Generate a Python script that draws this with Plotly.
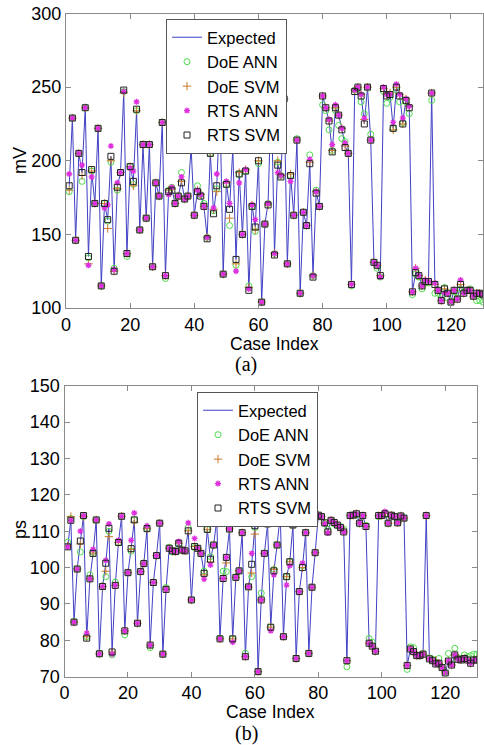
import plotly.graph_objects as go

case_index = list(range(1, 131))
x_ticks = [0, 20, 40, 60, 80, 100, 120]
y_ticks_a = [100, 150, 200, 250, 300]
y_ticks_b = [70, 80, 90, 100, 110, 120, 130, 140, 150]

# ---- (a) mV ----
a_expected = [183, 229, 146, 205, 192, 236, 135, 193, 171, 222,
              115, 171, 160, 203, 125, 182, 192, 247, 137, 196,
              186, 234, 153, 211, 161, 211, 128, 185, 176, 226,
              122, 180, 181, 171, 176, 186, 174, 176, 209, 163,
              180, 177, 169, 148, 205, 164, 183, 238, 123, 185,
              168, 208, 133, 192, 150, 194, 112, 170, 155, 200,
              104, 157, 171, 245, 137, 198, 190, 242, 130, 191,
              163, 214, 110, 165, 156, 199, 122, 179, 169, 244,
              236, 227, 206, 236, 231, 222, 210, 205, 116, 248,
              250, 245, 225, 250, 214, 131, 129, 122, 249, 245,
              246, 222, 250, 245, 226, 242, 237, 111, 124, 122,
              115, 119, 118, 246, 116, 112, 105, 113, 110, 104,
              112, 106, 116, 110, 112, 112, 108, 110, 110, 109]
a_doe_ann = [179, 229, 146, 205, 186, 236, 134, 193, 171, 222,
             115, 171, 159, 199, 127, 180, 192, 247, 135, 196,
             184, 234, 153, 211, 161, 211, 128, 185, 176, 226,
             120, 180, 182, 171, 176, 192, 174, 176, 210, 163,
             183, 177, 171, 148, 205, 166, 181, 238, 123, 184,
             156, 208, 129, 191, 150, 193, 115, 169, 152, 198,
             104, 157, 171, 245, 137, 199, 190, 242, 130, 190,
             163, 215, 110, 165, 156, 204, 122, 180, 169, 238,
             234, 221, 207, 234, 224, 215, 213, 205, 115, 248,
             249, 240, 232, 250, 218, 131, 127, 121, 247, 239,
             243, 222, 248, 240, 226, 240, 232, 109, 123, 121,
             113, 117, 117, 241, 110, 110, 107, 114, 107, 104,
             111, 107, 113, 111, 112, 113, 108, 105, 105, 104]
a_doe_svm = [180, 229, 146, 205, 190, 236, 130, 193, 171, 222,
             115, 171, 154, 200, 125, 181, 192, 246, 137, 196,
             183, 234, 153, 211, 161, 211, 128, 185, 176, 226,
             122, 180, 181, 171, 176, 186, 174, 176, 209, 163,
             180, 177, 169, 148, 205, 167, 179, 238, 123, 185,
             161, 208, 130, 192, 150, 194, 114, 170, 153, 200,
             104, 157, 170, 245, 137, 200, 190, 242, 130, 191,
             163, 214, 110, 165, 156, 199, 122, 179, 169, 244,
             236, 227, 207, 236, 231, 222, 210, 205, 116, 248,
             250, 245, 228, 250, 214, 131, 129, 122, 249, 245,
             246, 221, 250, 245, 225, 242, 237, 111, 127, 122,
             115, 119, 118, 246, 116, 112, 105, 113, 110, 104,
             112, 106, 116, 110, 112, 112, 108, 110, 110, 109]
a_rts_ann = [191, 229, 146, 205, 197, 236, 129, 189, 171, 222,
             115, 168, 170, 210, 126, 185, 192, 247, 137, 195,
             193, 240, 153, 211, 161, 211, 128, 185, 176, 226,
             122, 177, 182, 171, 176, 189, 174, 176, 216, 163,
             180, 177, 169, 148, 207, 168, 191, 238, 123, 186,
             171, 208, 125, 185, 150, 194, 113, 170, 160, 207,
             104, 157, 171, 245, 137, 192, 190, 242, 130, 186,
             163, 214, 110, 165, 156, 201, 122, 179, 169, 244,
             236, 228, 211, 238, 231, 222, 212, 205, 116, 248,
             250, 245, 229, 250, 214, 131, 129, 121, 250, 245,
             245, 226, 252, 245, 229, 242, 237, 111, 127, 122,
             115, 119, 118, 246, 117, 112, 105, 110, 110, 104,
             112, 106, 119, 110, 112, 112, 108, 110, 110, 109]
a_rts_svm = [183, 229, 146, 205, 192, 236, 135, 194, 171, 222,
             115, 171, 160, 203, 125, 182, 192, 248, 137, 196,
             186, 235, 153, 211, 161, 211, 128, 185, 176, 226,
             122, 179, 180, 171, 176, 185, 174, 176, 209, 163,
             179, 176, 169, 147, 205, 164, 183, 238, 123, 184,
             167, 208, 133, 191, 150, 193, 112, 169, 155, 200,
             104, 157, 170, 245, 136, 197, 189, 242, 130, 190,
             163, 214, 110, 165, 156, 198, 121, 178, 169, 244,
             236, 227, 206, 236, 231, 221, 209, 205, 116, 247,
             250, 244, 225, 250, 214, 131, 129, 122, 249, 244,
             245, 222, 250, 244, 225, 241, 236, 111, 124, 122,
             115, 118, 118, 246, 116, 112, 105, 113, 110, 104,
             112, 106, 116, 110, 112, 112, 108, 110, 110, 109]

# ---- (b) ps ----
b_expected = [105.7, 113.0, 85.0, 99.6, 107.1, 114.3, 80.6, 96.9, 103.9, 113.1,
              76.3, 94.8, 101.2, 110.8, 76.8, 95.1, 106.9, 114.1, 82.6, 98.6,
              105.2, 113.1, 84.7, 98.9, 101.1, 110.7, 78.7, 95.9, 103.3, 112.2,
              76.2, 94.0, 105.3, 104.6, 104.4, 106.7, 104.8, 104.6, 110.1, 91.1,
              105.8, 105.3, 103.9, 98.4, 110.5, 102.3, 106.2, 113.2, 80.4, 97.0,
              102.8, 110.6, 80.4, 97.3, 99.1, 109.6, 75.5, 94.7, 100.9, 111.5,
              71.4, 91.1, 103.9, 112.0, 83.6, 99.1, 106.2, 114.5, 81.0, 97.5,
              101.6, 111.7, 75.0, 93.4, 100.0, 109.6, 76.4, 94.6, 104.1, 114.4,
              114.0, 112.3, 109.8, 113.0, 112.4, 111.7, 111.0, 109.8, 74.4, 114.3,
              114.4, 114.8, 112.2, 114.3, 111.3, 79.2, 78.4, 77.0, 114.3, 114.3,
              114.8, 112.2, 114.4, 114.0, 112.3, 114.2, 113.6, 73.1, 77.6, 76.9,
              75.8, 75.8, 76.2, 114.3, 74.9, 74.4, 73.5, 73.7, 72.5, 71.0,
              74.3, 73.2, 76.0, 74.8, 74.6, 75.0, 74.6, 73.7, 74.6, 74.6]
b_doe_ann = [107.0, 113.5, 85.2, 99.6, 104.3, 114.0, 81.0, 98.0, 104.2, 113.0,
             76.3, 95.0, 97.5, 110.0, 76.0, 96.0, 106.9, 114.1, 81.5, 98.6,
             104.5, 113.1, 84.7, 98.9, 101.3, 110.7, 78.0, 95.9, 103.3, 112.2,
             76.2, 94.5, 105.6, 104.3, 104.4, 106.4, 104.8, 104.6, 111.0, 91.1,
             105.5, 105.3, 103.9, 99.0, 110.5, 103.0, 106.2, 113.2, 80.6, 99.0,
             98.9, 110.6, 80.4, 97.3, 99.1, 109.6, 76.5, 94.7, 97.5, 111.0,
             71.4, 93.0, 103.9, 112.3, 83.6, 99.5, 106.2, 114.5, 81.0, 97.5,
             101.6, 111.7, 75.0, 93.4, 100.5, 109.6, 76.4, 94.6, 104.1, 114.2,
             114.0, 112.0, 110.5, 113.0, 112.0, 111.5, 111.3, 110.6, 72.7, 114.3,
             114.4, 114.5, 112.0, 114.3, 111.6, 80.5, 79.5, 77.0, 114.0, 114.3,
             114.5, 112.2, 114.4, 114.0, 112.3, 114.2, 113.6, 72.0, 78.2, 78.0,
             76.0, 75.8, 76.4, 114.3, 75.2, 74.8, 74.0, 75.0, 72.5, 71.0,
             76.4, 73.5, 77.8, 75.2, 74.8, 76.0, 75.5, 75.8, 76.2, 76.2]
b_doe_svm = [106.0, 114.0, 85.0, 99.6, 106.5, 114.0, 81.0, 96.9, 104.0, 113.1,
             76.3, 94.8, 99.0, 108.5, 76.8, 95.1, 106.9, 114.1, 82.6, 98.6,
             105.0, 112.5, 84.7, 98.9, 101.1, 110.7, 78.7, 95.9, 103.3, 112.2,
             76.2, 94.0, 105.3, 104.6, 104.4, 106.7, 104.8, 104.6, 110.1, 91.1,
             105.8, 105.3, 103.9, 98.0, 110.5, 101.5, 106.2, 113.2, 80.4, 97.0,
             101.3, 110.6, 80.4, 97.3, 99.1, 109.6, 75.5, 94.7, 98.5, 109.2,
             71.4, 91.1, 103.9, 112.0, 83.6, 99.5, 106.2, 114.5, 81.0, 97.5,
             101.6, 111.7, 75.0, 93.4, 100.0, 109.6, 76.4, 94.6, 104.1, 114.4,
             114.0, 112.3, 109.8, 113.0, 112.4, 111.7, 111.0, 109.8, 74.4, 114.3,
             114.4, 114.8, 112.2, 114.3, 111.3, 79.2, 78.4, 77.0, 114.3, 114.3,
             114.8, 112.2, 114.4, 114.0, 112.3, 114.2, 113.6, 73.1, 77.6, 76.9,
             75.8, 75.8, 76.2, 114.3, 74.9, 74.4, 74.5, 73.7, 72.5, 71.0,
             74.3, 73.2, 76.0, 74.8, 74.6, 75.0, 74.6, 73.7, 74.6, 74.6]
b_rts_ann = [105.7, 113.0, 85.0, 99.6, 110.0, 114.3, 82.0, 96.9, 105.0, 113.1,
             76.3, 94.8, 102.0, 112.0, 76.2, 95.1, 107.5, 114.1, 82.6, 98.6,
             107.5, 115.0, 84.7, 98.9, 101.1, 111.5, 78.7, 95.9, 103.3, 112.2,
             76.2, 94.0, 105.3, 104.6, 104.4, 107.2, 104.8, 104.6, 112.3, 91.1,
             108.0, 105.3, 103.9, 96.8, 112.2, 100.7, 106.2, 113.2, 80.4, 97.0,
             102.8, 110.6, 79.5, 97.3, 99.1, 109.6, 75.5, 94.7, 103.9, 113.0,
             71.4, 91.1, 103.9, 112.0, 82.6, 98.0, 106.2, 114.5, 81.0, 95.2,
             100.5, 111.7, 75.0, 93.4, 101.2, 109.6, 76.4, 94.6, 104.1, 114.4,
             114.0, 112.0, 109.5, 113.0, 112.4, 111.7, 111.0, 109.8, 74.4, 114.3,
             114.4, 114.8, 112.2, 114.3, 111.3, 79.2, 78.4, 77.0, 114.3, 114.3,
             115.4, 112.2, 114.4, 114.0, 112.3, 114.2, 113.6, 73.1, 77.6, 76.9,
             75.8, 75.8, 76.2, 114.3, 74.9, 74.4, 73.5, 73.7, 72.5, 71.0,
             74.3, 73.2, 76.0, 74.8, 74.6, 75.0, 74.6, 73.7, 74.6, 74.6]
b_rts_svm = [105.7, 113.0, 85.0, 99.6, 107.3, 114.3, 80.6, 96.9, 103.9, 113.1,
             76.3, 94.8, 101.2, 110.8, 76.8, 95.1, 106.9, 114.1, 82.6, 98.6,
             105.2, 113.1, 84.7, 98.9, 101.1, 110.7, 78.7, 95.9, 103.3, 112.2,
             76.2, 94.0, 105.3, 104.6, 104.4, 106.7, 104.8, 104.6, 110.1, 91.1,
             105.8, 105.3, 103.9, 98.4, 110.5, 102.3, 106.2, 113.2, 80.4, 97.0,
             102.8, 110.6, 80.4, 97.3, 99.1, 109.6, 75.5, 94.7, 100.9, 111.5,
             71.4, 91.1, 103.9, 112.0, 83.6, 99.1, 106.2, 114.5, 81.0, 97.5,
             101.6, 111.7, 75.0, 93.4, 100.0, 109.6, 76.4, 94.6, 104.1, 114.4,
             114.0, 112.3, 109.8, 113.0, 112.4, 111.7, 111.0, 109.8, 74.4, 114.3,
             114.4, 114.8, 112.2, 114.3, 111.3, 79.2, 78.4, 77.0, 114.3, 114.3,
             114.8, 112.2, 114.4, 114.0, 112.3, 114.2, 113.6, 73.1, 77.6, 76.9,
             75.8, 75.8, 76.2, 114.3, 74.9, 74.4, 73.5, 73.7, 72.5, 71.0,
             74.3, 73.2, 76.0, 74.8, 74.6, 75.0, 74.6, 73.7, 74.6, 74.6]

FONT = "Liberation Sans, Arial, Helvetica, sans-serif"
SERIF = "Liberation Serif, Times New Roman, serif"
LINE_C = "#4040c4"
GREEN = "#4ddc4d"
ORANGE = "#c87a2a"
MAGENTA = "#dd2fdd"
BLACK = "#222222"

styles = [
    ("DoE ANN", dict(symbol="circle-open", size=6, color=GREEN, line=dict(width=1, color=GREEN))),
    ("DoE SVM", dict(symbol="cross-thin-open", size=6, color=ORANGE, line=dict(width=1, color=ORANGE))),
    ("RTS ANN", dict(symbol="asterisk-open", size=5, color=MAGENTA, line=dict(width=1.3, color=MAGENTA))),
    ("RTS SVM", dict(symbol="square-open", size=6, color=BLACK, line=dict(width=1, color=BLACK))),
]

fig = go.Figure()

def add_panel(exp, models, xa, ya, legend):
    fig.add_trace(go.Scatter(x=case_index, y=exp, mode="lines", name="Expected",
                             line=dict(color=LINE_C, width=1), xaxis=xa, yaxis=ya, legend=legend))
    for (name, mk), vals in zip(styles, models):
        fig.add_trace(go.Scatter(x=case_index, y=vals, mode="markers", name=name,
                                 marker=mk, xaxis=xa, yaxis=ya, legend=legend))

add_panel(a_expected, [a_doe_ann, a_doe_svm, a_rts_ann, a_rts_svm], "x", "y", "legend")
add_panel(b_expected, [b_doe_ann, b_doe_svm, b_rts_ann, b_rts_svm], "x2", "y2", "legend2")

W, H = 484, 745
axis_common = dict(showline=True, linecolor="#8a8a8a", linewidth=1, mirror="ticks",
                   ticks="inside", ticklen=5, tickcolor="#8a8a8a", showgrid=False,
                   zeroline=False, automargin=False,
                   tickfont=dict(family=FONT, size=18, color="black"))

legend_common = dict(xanchor="left", yanchor="top", bgcolor="white",
                     bordercolor="#555555", borderwidth=1,
                     font=dict(family=FONT, size=16.5, color="black"),
                     tracegroupgap=0, itemwidth=30)

fig.update_layout(
    width=W, height=H, margin=dict(l=0, r=0, t=0, b=0, autoexpand=False),
    paper_bgcolor="white", plot_bgcolor="white",
    xaxis=dict(domain=[66 / W, 483 / W], anchor="y", range=[0, 130], tickvals=x_ticks, **axis_common),
    yaxis=dict(domain=[1 - 308 / H, 1 - 13.5 / H], anchor="x", range=[100, 300], tickvals=y_ticks_a, **axis_common),
    xaxis2=dict(domain=[64.5 / W, 477 / W], anchor="y2", range=[0, 130], tickvals=x_ticks, **axis_common),
    yaxis2=dict(domain=[1 - 676.7 / H, 1 - 385.7 / H], anchor="x2", range=[70, 150], tickvals=y_ticks_b, **axis_common),
    legend=dict(x=166 / W, y=1 - 19 / H, **legend_common),
    legend2=dict(x=197 / W, y=1 - 392 / H, **legend_common),
    showlegend=True,
)

ann = [
    dict(text="mV", x=20 / W, y=1 - 161 / H, textangle=-90, font=dict(family=FONT, size=18)),
    dict(text="Case Index", x=274 / W, y=1 - 344 / H, font=dict(family=FONT, size=17.5)),
    dict(text="(a)", x=246 / W, y=1 - 364 / H, font=dict(family=SERIF, size=20)),
    dict(text="ps", x=20 / W, y=1 - 530 / H, textangle=-90, font=dict(family=FONT, size=18)),
    dict(text="Case Index", x=270 / W, y=1 - 712 / H, font=dict(family=FONT, size=17.5)),
    dict(text="(b)", x=246 / W, y=1 - 733 / H, font=dict(family=SERIF, size=20)),
]
for a in ann:
    a.update(xref="paper", yref="paper", showarrow=False, xanchor="center", yanchor="middle")
    a["font"]["color"] = "black"
fig.update_layout(annotations=ann)

fig.write_html("out.html", config={"displayModeBar": False},
               post_script="document.body.style.margin='0';document.body.style.overflow='hidden';")
